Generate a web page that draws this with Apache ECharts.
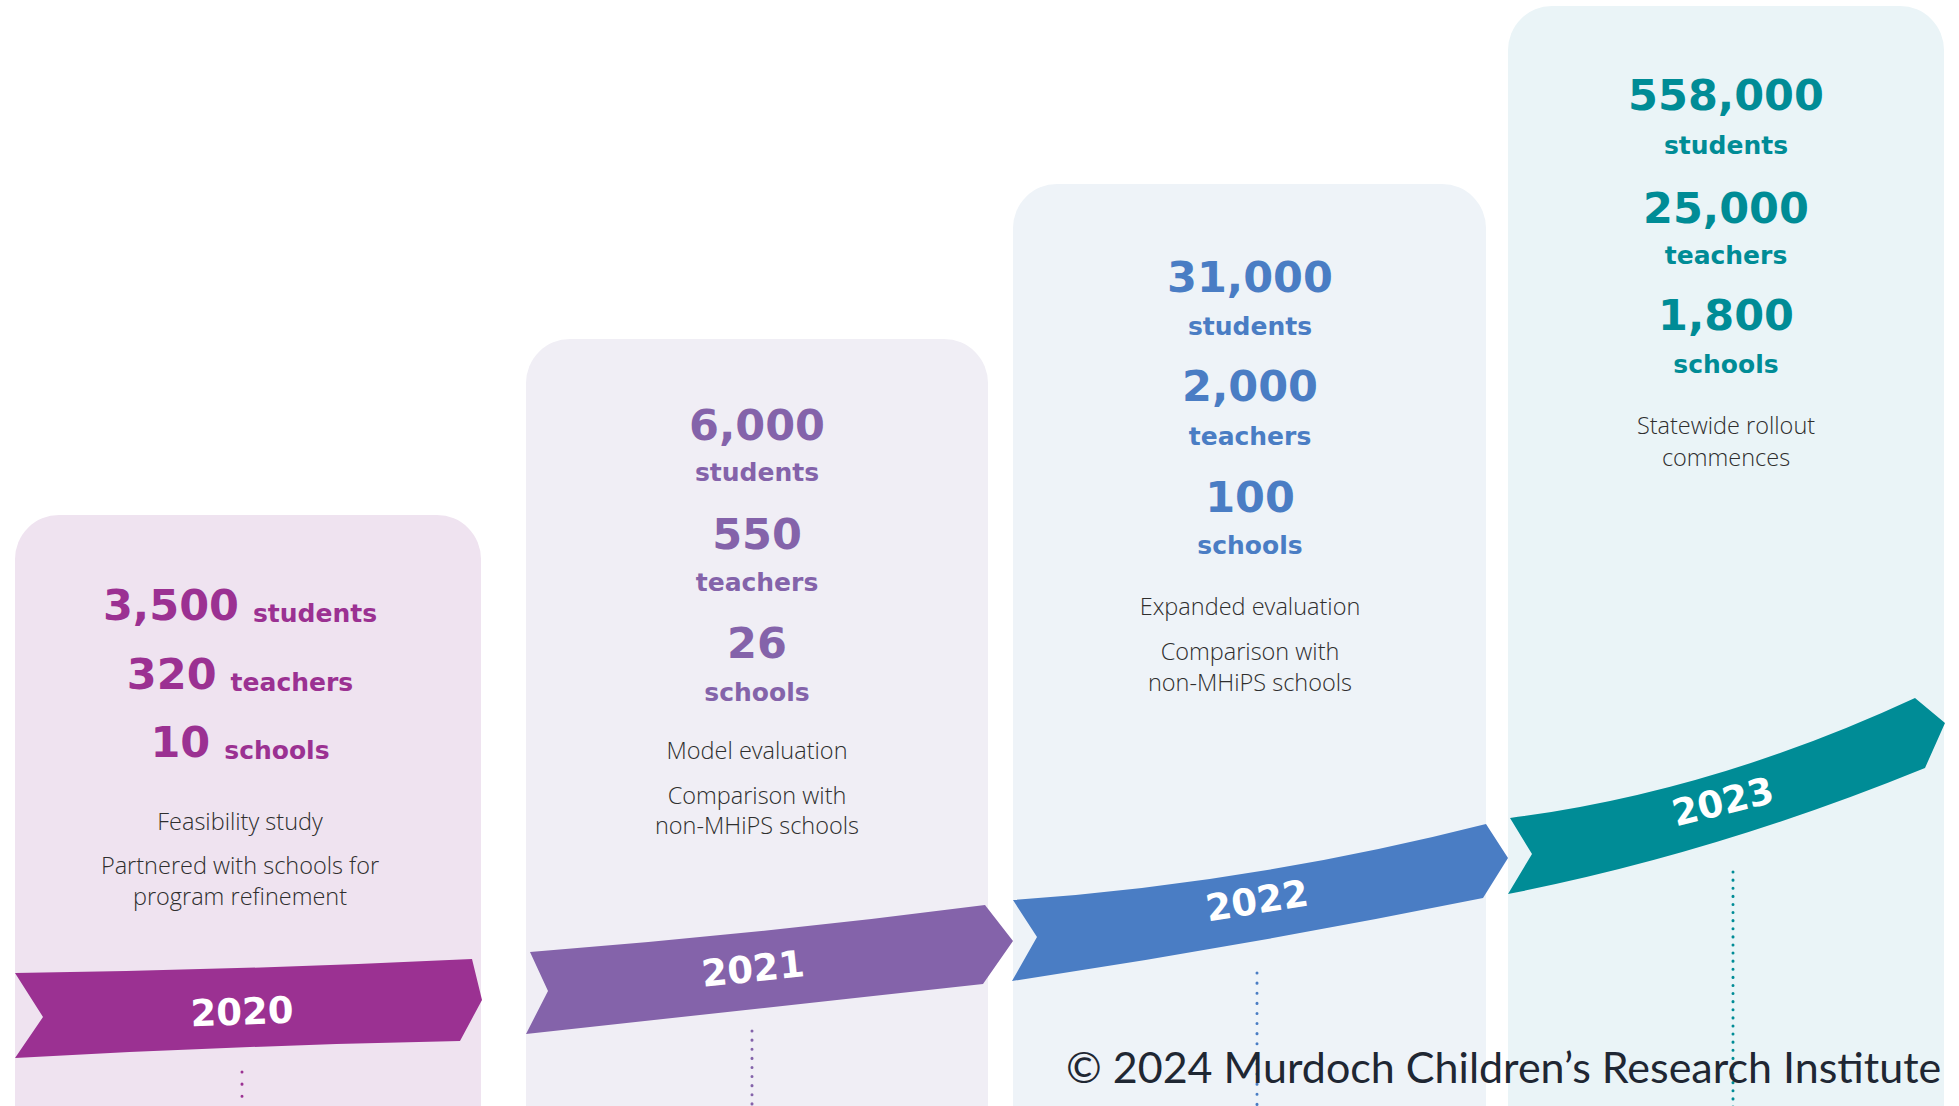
<!DOCTYPE html>
<html><head><meta charset="utf-8">
<script src="https://cdn.jsdelivr.net/npm/echarts@6/dist/echarts.min.js"></script>
<style>html,body{margin:0;padding:0;background:#fff;overflow:hidden}#c{width:1959px;height:1106px}</style>
</head><body><div id="c"></div>
<script>
// ---- data ----
const years = ['2020', '2021', '2022', '2023'];
const students = [3500, 6000, 31000, 558000];
const teachers = [320, 550, 2000, 25000];
const schools = [10, 26, 100, 1800];
const unitLabels = ['students', 'teachers', 'schools'];
const notes = [
  ['Feasibility study', 'Partnered with schools for', 'program refinement'],
  ['Model evaluation', 'Comparison with', 'non-MHiPS schools'],
  ['Expanded evaluation', 'Comparison with', 'non-MHiPS schools'],
  ['Statewide rollout', 'commences']
];
const copyright = '\u00A9 2024 Murdoch Children\u2019s Research Institute';

// ---- layout (positions / sizes, in chart units) ----
const W = 1959, H = 1106;
const PANEL = [
  { x0: 15, x1: 481, top: 515 },
  { x0: 526, x1: 988, top: 339 },
  { x0: 1013, x1: 1486, top: 184 },
  { x0: 1508, x1: 1944, top: 6 }
];
const RIBBON = [
  { lt: [15, 973], rt: [472, 959], tip: [482, 1000], rb: [460, 1041], lb: [15, 1058], notch: [43, 1017], sagT: 2, sagB: -2, label: [242, 1012], rot: 2, dotX: 242, dotY: 1072, gap: 12 },
  { lt: [530, 952], rt: [985, 905], tip: [1013, 941], rb: [983, 984], lb: [526, 1034], notch: [548, 991], sagT: 3, sagB: 0, label: [753, 969], rot: 6, dotX: 752, dotY: 1031, gap: 9 },
  { lt: [1013, 900], rt: [1486, 824], tip: [1508, 858], rb: [1483, 898], lb: [1012, 981], notch: [1037, 937], sagT: 11, sagB: 3, label: [1257, 901], rot: 9, dotX: 1257, dotY: 973, gap: 10 },
  { lt: [1510, 818], rt: [1915, 698], tip: [1945, 723], rb: [1925, 768], lb: [1508, 894], notch: [1532, 854], sagT: 17, sagB: 11, label: [1723, 802], rot: 14, dotX: 1733, dotY: 872, gap: 8 }
];
const TEXTPOS = [
  { cx: 240, rows: [601, 670, 738], notes: [821, 865, 896], inline: true },
  { cx: 757, nums: [425, 534, 643], labels: [472, 582, 692], notes: [750, 795, 825] },
  { cx: 1250, nums: [277, 386, 497], labels: [326, 436, 545], notes: [606, 651, 682] },
  { cx: 1726, nums: [95, 208, 315], labels: [145, 255, 364], notes: [425, 457] }
];
const COLORS = [
  { main: '#9b3192', bg: '#efe3f0' },
  { main: '#8463aa', bg: '#f0eef5' },
  { main: '#4a7dc4', bg: '#eef3f8' },
  { main: '#008c96', bg: '#eaf4f7' }
];
const BOLD = 'DejaVu Sans';
const LIGHT = '"Open Sans", Lato, sans-serif';
const fmt = n => n.toLocaleString('en-US');

function renderItem(params, api) {
  const i = api.value(0);
  const stats = [api.value(1), api.value(2), api.value(3)];
  const P = PANEL[i], R = RIBBON[i], T = TEXTPOS[i], col = COLORS[i];
  const c = p => api.coord(p);
  const ch = [];
  // panel
  const tl = c([P.x0, P.top]), br = c([P.x1, H + 20]);
  ch.push({ type: 'rect', z2: 0, shape: { x: tl[0], y: tl[1], width: br[0] - tl[0], height: br[1] - tl[1], r: [44, 44, 0, 0] }, style: { fill: col.bg } });
  // ribbon
  const lt = c(R.lt), rt = c(R.rt), tip = c(R.tip), rb = c(R.rb), lb = c(R.lb), nt = c(R.notch);
  const cT = [(lt[0] + rt[0]) / 2, (lt[1] + rt[1]) / 2 + 2 * R.sagT];
  const cB = [(lb[0] + rb[0]) / 2, (lb[1] + rb[1]) / 2 + 2 * R.sagB];
  const d = 'M' + lt[0] + ' ' + lt[1] + ' Q' + cT[0] + ' ' + cT[1] + ' ' + rt[0] + ' ' + rt[1] +
    ' L' + tip[0] + ' ' + tip[1] + ' L' + rb[0] + ' ' + rb[1] +
    ' Q' + cB[0] + ' ' + cB[1] + ' ' + lb[0] + ' ' + lb[1] +
    ' L' + nt[0] + ' ' + nt[1] + ' Z';
  ch.push({ type: 'path', z2: 10, shape: { pathData: d }, style: { fill: col.main } });
  // year label
  const lp = c(R.label);
  ch.push({ type: 'text', z2: 20, x: lp[0], y: lp[1], rotation: R.rot * Math.PI / 180,
    style: { text: years[i], fill: '#ffffff', fontFamily: BOLD, fontWeight: 'bold', fontSize: 37, align: 'center', verticalAlign: 'middle' } });
  // dotted line
  const d0 = c([R.dotX, R.dotY]), d1 = c([R.dotX, H + 10]);
  ch.push({ type: 'line', z2: 5, shape: { x1: d0[0], y1: d0[1], x2: d1[0], y2: d1[1] },
    style: { stroke: col.main, lineWidth: 3, lineDash: [0.1, R.gap], lineCap: 'round' } });
  // stats
  if (T.inline) {
    for (let k = 0; k < 3; k++) {
      const p = c([T.cx, T.rows[k]]);
      ch.push({ type: 'text', z2: 20, x: p[0], y: p[1], style: {
        text: '{n|' + fmt(stats[k]) + '}{l|' + unitLabels[k] + '}', align: 'center', verticalAlign: 'middle',
        rich: {
          n: { fontFamily: BOLD, fontWeight: 'bold', fontSize: 43, lineHeight: 50, fill: col.main, verticalAlign: 'bottom' },
          l: { fontFamily: BOLD, fontWeight: 'bold', fontSize: 25, lineHeight: 39, fill: col.main, verticalAlign: 'bottom', padding: [0, 0, 0, 14] }
        } } });
    }
  } else {
    for (let k = 0; k < 3; k++) {
      const pn = c([T.cx, T.nums[k]]), pl = c([T.cx, T.labels[k]]);
      ch.push({ type: 'text', z2: 20, x: pn[0], y: pn[1], style: { text: fmt(stats[k]), fill: col.main, fontFamily: BOLD, fontWeight: 'bold', fontSize: 43, align: 'center', verticalAlign: 'middle' } });
      ch.push({ type: 'text', z2: 20, x: pl[0], y: pl[1], style: { text: unitLabels[k], fill: col.main, fontFamily: BOLD, fontWeight: 'bold', fontSize: 25, align: 'center', verticalAlign: 'middle' } });
    }
  }
  notes[i].forEach((t, k) => {
    const p = c([T.cx, T.notes[k]]);
    ch.push({ type: 'text', z2: 20, x: p[0], y: p[1], style: { text: t, fill: '#2e2e2e', fontFamily: LIGHT, fontWeight: 300, fontSize: 23.5, align: 'center', verticalAlign: 'middle' } });
  });
  return { type: 'group', children: ch };
}

const chart = echarts.init(document.getElementById('c'), null, { renderer: 'svg', width: W, height: H });
chart.setOption({
  animation: false,
  backgroundColor: '#ffffff',
  title: {
    text: copyright, left: 1066, top: 1043, padding: 0,
    textStyle: { fontFamily: 'Lato, "Open Sans", sans-serif', fontWeight: 'normal', fontSize: 43, lineHeight: 47, color: '#1f2733' }
  },
  grid: { left: 0, right: 0, top: 0, bottom: 0 },
  xAxis: { type: 'value', min: 0, max: W, show: false },
  yAxis: { type: 'value', min: 0, max: H, inverse: true, show: false },
  series: [{
    type: 'custom',
    renderItem: renderItem,
    clip: false,
    data: years.map((y, i) => ({ name: y, value: [i, students[i], teachers[i], schools[i]] }))
  }]
});
</script>
</body></html>
